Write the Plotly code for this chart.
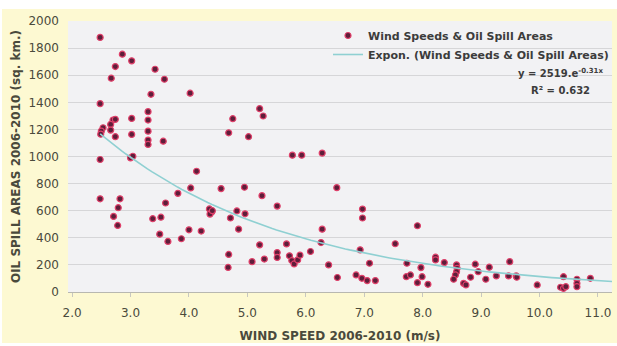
import numpy as np
import plotly.graph_objects as go

wind_speed = [
    2.48, 2.86, 3.02, 2.74, 3.42, 2.67, 3.58, 3.35, 4.02, 2.48,
    3.30, 5.21, 5.27, 3.02, 3.30, 4.75, 2.70, 2.74, 2.66, 2.53,
    2.50, 2.49, 2.66, 2.74, 3.02, 3.30, 4.68, 5.02, 3.30, 3.30,
    3.56, 2.48, 3.00, 3.04, 5.77, 5.93, 6.28, 4.13, 4.03, 3.81,
    4.55, 4.95, 5.25, 5.51, 6.53, 2.48, 2.82, 2.79, 2.71, 2.78,
    3.38, 3.52, 3.60, 3.50, 3.64, 3.87, 4.00, 4.21, 4.35, 4.39,
    4.36, 4.40, 4.71, 4.82, 4.96, 4.85, 4.68, 4.67, 5.21, 5.08,
    5.29, 5.51, 5.51, 5.67, 5.72, 5.76, 5.80, 5.86, 5.90, 6.08,
    6.97, 6.97, 6.28, 6.26, 6.39, 6.54, 6.93, 7.09, 6.86, 6.96,
    7.05, 7.19, 7.53, 7.91, 7.73, 7.72, 7.79, 7.97, 7.99, 7.91,
    8.09, 8.22, 8.22, 8.37, 8.58, 8.59, 8.58, 8.56, 8.53, 8.70,
    8.74, 8.82, 8.90, 8.95, 9.08, 9.14, 9.26, 9.49, 9.47, 9.60,
    9.61, 9.96, 10.41, 10.36, 10.41, 10.45, 10.64, 10.64, 10.64, 10.87,
]
oil_spill_area = [
    1879, 1755, 1706, 1664, 1644, 1578, 1570, 1459, 1467, 1390,
    1331, 1353, 1299, 1281, 1269, 1279, 1269, 1274, 1237, 1212,
    1187, 1165, 1195, 1146, 1163, 1187, 1175, 1146, 1121, 1089,
    1113, 978, 990, 1002, 1010, 1010, 1025, 891, 768, 728,
    763, 773, 711, 634, 770, 688, 688, 622, 558, 491,
    541, 552, 657, 427, 373, 393, 459, 450, 613, 590,
    575, 600, 546, 598, 577, 464, 277, 181, 348, 224,
    243, 291, 255, 355, 267, 232, 207, 237, 272, 299,
    612, 546, 464, 365, 200, 107, 311, 212, 126, 101,
    84, 84, 356, 489, 212, 113, 126, 180, 113, 69,
    57, 257, 237, 217, 200, 175, 150, 126, 94, 64,
    52, 109, 205, 150, 94, 183, 119, 224, 119, 119,
    109, 52, 113, 35, 27, 39, 94, 64, 39, 101,
]

y_ticks = [0, 200, 400, 600, 800, 1000, 1200, 1400, 1600, 1800, 2000]
x_ticks = [2.0, 3.0, 4.0, 5.0, 6.0, 7.0, 8.0, 9.0, 10.0, 11.0]
x_tick_labels = ["2.0", "3.0", "4.0", "5.0", "6.0", "7.0", "8.0", "9.0", "10.0", "11.0"]

trend_a = 2519.0
trend_b = -0.31
x_range = [1.93, 11.24]

trend_x = np.linspace(min(wind_speed), x_range[1], 120)
trend_y = trend_a * np.exp(trend_b * trend_x)

W, H = 617, 346
ml, mr, mt, mb = 68, 5, 21, 54
pw = W - ml - mr
ph = H - mt - mb

def px(p):
    return (p - ml) / pw

def py(p):
    return (H - mb - p) / ph

FONT = "DejaVu Sans"
TXT = "#4a4a3c"

fig = go.Figure()
fig.add_trace(go.Scatter(
    x=wind_speed, y=oil_spill_area, mode="markers",
    name="<b>Wind Speeds & Oil Spill Areas</b>",
    marker=dict(size=6, color="#5e1e3a", line=dict(color="#e0406a", width=1.2)),
))
fig.add_trace(go.Scatter(
    x=trend_x, y=trend_y, mode="lines",
    name="<b>Expon. (Wind Speeds & Oil Spill Areas)</b>",
    line=dict(color="#8fd0d2", width=1.6),
))

fig.update_layout(
    width=W, height=H,
    margin=dict(l=ml, r=mr, t=mt, b=mb, autoexpand=False),
    paper_bgcolor="white",
    plot_bgcolor="#f2f2f4",
    font=dict(family=FONT, color=TXT),
    showlegend=True,
    legend=dict(
        x=px(328), y=1.0, xanchor="left", yanchor="top",
        bgcolor="rgba(0,0,0,0)", font=dict(size=11, color="#3c3c3c"),
        tracegroupgap=0, itemwidth=30,
    ),
    shapes=[
        dict(type="rect", xref="paper", yref="paper", layer="below",
             x0=px(2), x1=px(617), y0=py(343), y1=py(9),
             fillcolor="#fdf9d2", line=dict(width=0)),
        dict(type="rect", xref="paper", yref="paper", layer="below",
             x0=0, x1=1, y0=0, y1=1,
             fillcolor="#f2f2f4", line=dict(width=0)),
    ],
    annotations=[
        dict(xref="paper", yref="paper", x=px(560), y=py(73), xanchor="center", yanchor="middle",
             text="<b>y = 2519.e<sup>-0.31x</sup></b>", showarrow=False,
             font=dict(size=10, color="#3c3c3c")),
        dict(xref="paper", yref="paper", x=px(560), y=py(90), xanchor="center", yanchor="middle",
             text="<b>R² = 0.632</b>", showarrow=False,
             font=dict(size=10, color="#3c3c3c")),
    ],
)

fig.update_xaxes(
    range=x_range, tickmode="array", tickvals=x_ticks, ticktext=x_tick_labels,
    showgrid=False, zeroline=False, showline=True, linecolor="#b8b8b0", linewidth=1,
    ticks="outside", ticklen=4, tickcolor="#c8c8c0",
    tickfont=dict(size=12, family=FONT, color=TXT), ticklabelstandoff=6,
    tickprefix="<b>", ticksuffix="</b>",
    title=dict(text="<b>WIND SPEED 2006-2010 (m/s)</b>", font=dict(size=12, family=FONT, color=TXT), standoff=12),
)
fig.update_yaxes(
    range=[0, 2000], tickmode="array", tickvals=y_ticks,
    showgrid=True, gridcolor="#d6d6d8", gridwidth=1, zeroline=False, showline=False,
    ticks="", tickfont=dict(size=12, family=FONT, color=TXT), ticklabelstandoff=8,
    tickprefix="<b>", ticksuffix="</b>",
    title=dict(text="<b>OIL SPILL AREAS 2006-2010 (sq. km.)</b>", font=dict(size=12, family=FONT, color=TXT), standoff=5),
)

fig.write_html("out.html")
